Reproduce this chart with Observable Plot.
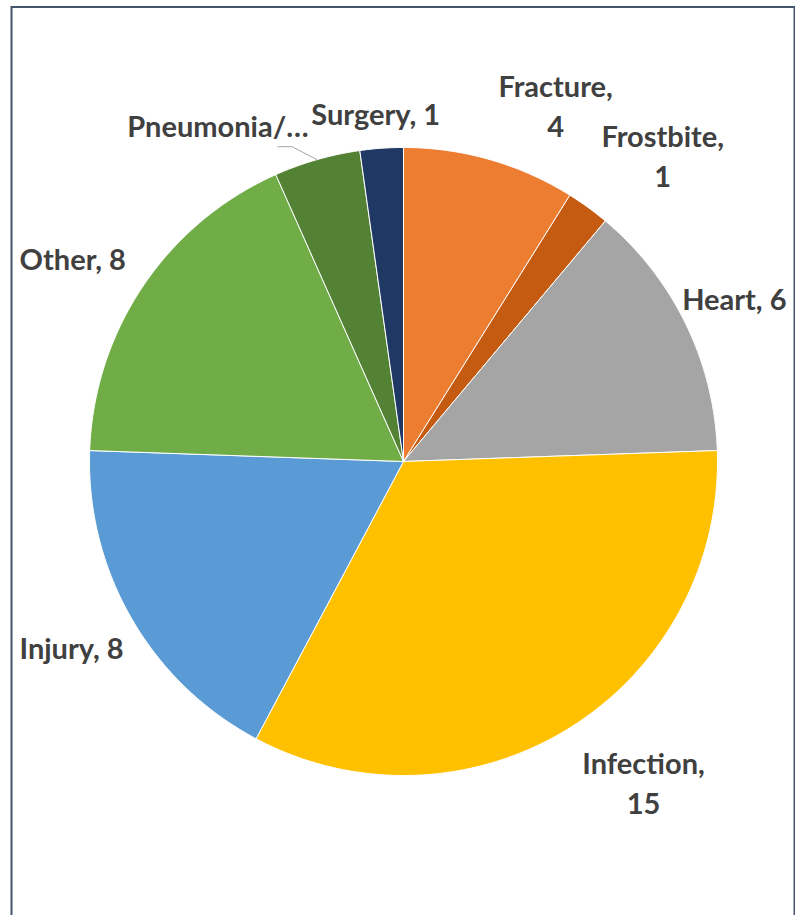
<!DOCTYPE html>
<html><head><meta charset="utf-8">
<script src="https://cdn.jsdelivr.net/npm/d3@7"></script>
<script src="https://cdn.jsdelivr.net/npm/@observablehq/plot@0.6"></script>
<style>html,body{margin:0;padding:0;background:#fff;overflow:hidden}</style>
</head><body><div id="chart"></div>
<script>
// ---- data ----
const categories = ["Fracture", "Frostbite", "Heart", "Infection", "Injury", "Other", "Pneumonia/…", "Surgery"];
const values = [4, 1, 6, 15, 8, 8, 2, 1];
const colors = ["#ED7D31", "#C55A11", "#A5A5A5", "#FFC000", "#5B9BD5", "#70AD47", "#548235", "#203864"];
const wrappedLabels = ["Fracture", "Frostbite", "Infection"];
const truncatedLabels = ["Pneumonia/…"];   // label shows only the cut-off name
const leaderLabels = ["Pneumonia/…"];

// ---- layout ----
const W = 795, H = 925, CX = 403, CY = 461, R = 314;
const FONT_SIZE = 29, LINE_H = 1.38, FONT = "Lato";
const GAP = 16, PAD = 4, FRAME_L = 15, FRAME_R = 790;

const total = d3.sum(values);
let acc = 0;
const slices = categories.map((c, i) => {
  const a0 = acc / total * 2 * Math.PI;
  acc += values[i];
  const a1 = acc / total * 2 * Math.PI;
  return {category: c, value: values[i], a0, a1, mid: (a0 + a1) / 2};
});

// slice outlines in data units (unit circle), angles clockwise from top
const pts = [];
for (const s of slices) {
  pts.push({category: s.category, x: 0, y: 0});
  const n = Math.max(2, Math.ceil((s.a1 - s.a0) / (Math.PI / 360)));
  for (let k = 0; k <= n; k++) {
    const a = s.a0 + (s.a1 - s.a0) * k / n;
    pts.push({category: s.category, x: Math.sin(a), y: Math.cos(a)});
  }
  pts.push({category: s.category, x: 0, y: 0});
}

// label placement: box corner on the mid-angle ray, just outside the pie
const ctx = document.createElement("canvas").getContext("2d");
ctx.font = `bold ${FONT_SIZE}px ${FONT}`;
const labels = slices.map(s => {
  const text = truncatedLabels.includes(s.category) ? s.category
    : wrappedLabels.includes(s.category) ? `${s.category},\n${s.value}` : `${s.category}, ${s.value}`;
  const lines = text.split("\n");
  const w = d3.max(lines, l => ctx.measureText(l).width) + 2 * PAD;
  const h = lines.length * FONT_SIZE * LINE_H;
  const sin = Math.sin(s.mid), cos = Math.cos(s.mid);
  const d = R + GAP;
  const hx = Math.abs(sin) < 0.15 ? 0 : Math.sign(sin);
  const vy = Math.sign(cos);
  let cxPx = CX + d * sin + hx * w / 2 + (hx === 0 ? sin * w / 2 : 0);
  cxPx = Math.min(FRAME_R - w / 2, Math.max(FRAME_L + w / 2, cxPx));
  const py = d * cos + vy * h / 2;
  return {text, x: (cxPx - CX) / R, y: py / R};
});

// leader lines
const leaderPts = [];
for (const s of slices.filter(s => leaderLabels.includes(s.category))) {
  const a2 = s.mid - 3.5 * Math.PI / 180, r2 = (R + 20) / R;
  const p2 = {x: r2 * Math.sin(a2), y: r2 * Math.cos(a2)};
  leaderPts.push({category: s.category, x: Math.sin(s.mid), y: Math.cos(s.mid)});
  leaderPts.push({category: s.category, ...p2});
  leaderPts.push({category: s.category, x: p2.x - 14 / R, y: p2.y});
}

const chart = Plot.plot({
  width: W, height: H,
  marginTop: 6.5, marginLeft: 11, marginRight: 1, marginBottom: 0,
  x: {domain: [-1, 1], range: [CX - R, CX + R], axis: null},
  y: {domain: [-1, 1], range: [CY + R, CY - R], axis: null},
  color: {domain: categories, range: colors},
  style: {background: "#fff"},
  marks: [
    Plot.frame({stroke: "#44546A", strokeWidth: 2}),
    Plot.line(pts, {x: "x", y: "y", z: "category", fill: "category", stroke: "#fff", strokeWidth: 1, strokeLinejoin: "round"}),
    Plot.line(leaderPts, {x: "x", y: "y", z: "category", stroke: "#A6A6A6", strokeWidth: 1}),
    Plot.text(labels, {x: "x", y: "y", text: "text", fill: "#404040", fontSize: FONT_SIZE, fontWeight: "bold", fontFamily: FONT, lineHeight: LINE_H, textAnchor: "middle", lineAnchor: "middle"})
  ]
});
document.getElementById("chart").append(chart);
</script>
</body></html>
